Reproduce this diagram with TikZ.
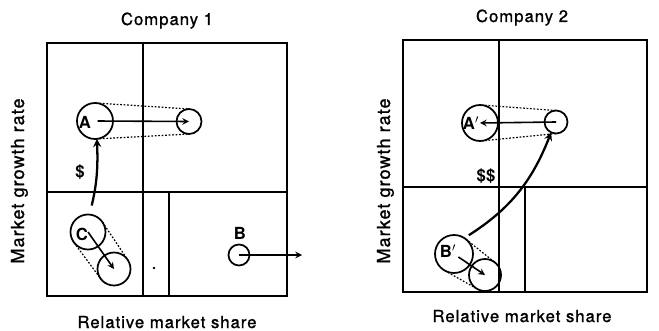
\documentclass[tikz,border=0pt]{standalone}
\usepackage{fontspec}
\setmainfont{TeX Gyre Heros}
\newfontfamily\titrefont{TeX Gyre Heros}[LetterSpace=6, FakeBold=1.2]
\usepackage{tikz}

\begin{document}
\begin{tikzpicture}[x=0.75pt, y=-0.75pt, >=stealth,
  bulle/.style={circle, draw=black, line width=1.3pt, minimum size=#1*1.5pt, inner sep=0pt, outer sep=0pt},
  lettre/.style={font=\bfseries\fontsize{12.5}{14}\selectfont, inner sep=0pt},
  titre/.style={font=\titrefont\fontsize{12.5}{14}\selectfont, inner sep=0pt},
  axe/.style={font=\titrefont\fontsize{13.5}{15}\selectfont, inner sep=0pt, rotate=90},
  cadre/.style={line width=1.5pt},
  fleche/.style={->, line width=1.2pt},
  flux/.style={->, line width=1.7pt},
  tangente/.style={dash pattern=on 1.3pt off 1.3pt, line width=0.9pt}]

\useasboundingbox (0,0) rectangle (659,331);

% Les cadres des deux matrices
\draw[cadre] (47,43) rectangle (287,296);
\draw[cadre] (143,43) -- (143,296) (47,192) -- (287,192) (169,192) -- (169,296);
\draw[cadre] (403,40) rectangle (647,292);
\draw[cadre] (499,40) -- (499,292) (403,187) -- (647,187) (525,187) -- (525,292);

% Les titres et les axes
\foreach \n/\x/\yt/\yb/\xa in {1/167/25/328/24, 2/522/22/322/390}
{
  \node[titre, anchor=base] (T\n) at (\x,\yt) {Company \n};
  \node[titre, anchor=base] (X\n) at (\x,\yb) {Relative market share};
  \node[axe, anchor=base] (Y\n) at (\xa,181) {Market growth rate};
}

% Les cercles (Company 1)
\node[bulle=18] (A) at (95,121) {};
\node[bulle=12.5] (A2) at (189,121.5) {};
\node[bulle=17.5] (C) at (88,232) {};
\node[bulle=16.5] (C2) at (114,269) {};
\node[bulle=10.5] (B) at (239,255) {};
\coordinate (Bout) at (302,255);

% Les cercles (Company 2)
\node[bulle=18] (Ap) at (480,123) {};
\node[bulle=11.5] (Ap2) at (556,122) {};
\node[bulle=19] (Bp) at (454,254) {};
\node[bulle=16] (Bp2) at (485,275) {};

% Les lettres
\node[lettre] (lA) at (85,122) {A};
\node[lettre] (lC) at (82,234) {C};
\node[lettre] (lB) at (240,233) {B};
\node[lettre] (lAp) at (471,123) {A$'$};
\node[lettre] (lBp) at (448,251) {B$'$};
\node[lettre] (d1) at (80,172) {\$};
\node[lettre] (d2) at (486,176) {\$\$};

% Les tangentes
\draw[tangente] (A.87) -- (A2.87) (A.-87) -- (A2.-87);
\draw[tangente] (C.34) -- (C2.34) (C.-143) -- (C2.-143);
\draw[tangente] (Ap.85) -- (Ap2.85) (Ap.-85) -- (Ap2.-85);
\draw[tangente] (Bp.51) -- (Bp2.51) (Bp.-119) -- (Bp2.-119);

% Les déplacements
\draw[fleche, shorten <=2pt] (A.center) -- (A2.center);
\draw[fleche] (C.center) -- (C2.center);
\draw[fleche] (B.center) -- (Bout);
\draw[fleche] (Ap2.center) -- (Ap.center);
\draw[fleche, shorten <=4pt] (Bp.center) -- (Bp2.center);

% Les flux de liquidités
\draw[flux, shorten <=7pt] (C.85) to[bend right=8] (A.-84);
\draw[flux, shorten <=4pt] (Bp.57) to[bend right=18] (Ap2.-115);

% Le point
\fill (154,268) circle (1pt);

\end{tikzpicture}
\end{document}
